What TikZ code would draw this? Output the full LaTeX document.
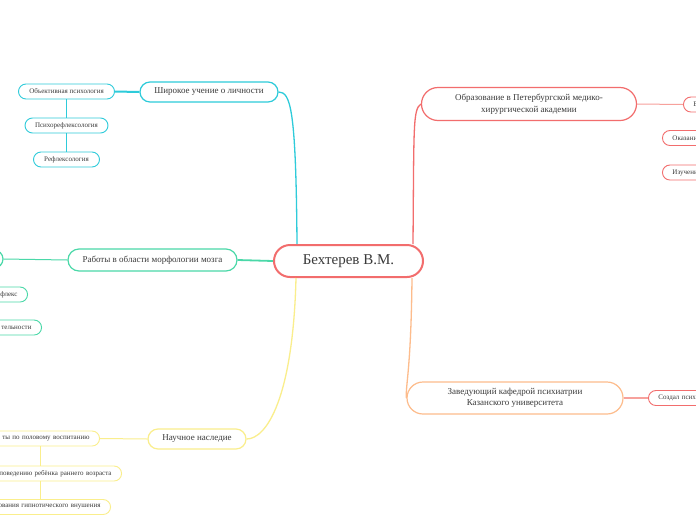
\documentclass[tikz,border=0pt]{standalone}
\usepackage{fontspec}
\setmainfont{Liberation Serif}
\usepackage{tikz}
\definecolor{ink}{HTML}{3A3A3A}
\definecolor{rootred}{HTML}{F26D6D}
\definecolor{cyanline}{HTML}{2ECBDA}
\definecolor{tealline}{HTML}{4AD8A8}
\definecolor{yellowline}{HTML}{FAEE8C}
\definecolor{peachline}{HTML}{FDBC8C}
\definecolor{salmonline}{HTML}{F7A19C}
\tikzset{
 mmbox/.style={draw=#1, fill=white, text=ink, inner sep=0pt},
 root/.style={mmbox=rootred, line width=2pt, rounded corners=16pt, minimum width=149pt, minimum height=32pt, font=\fontsize{15}{18}\selectfont},
 topic/.style={mmbox=#1, line width=1.2pt, font=\fontsize{9}{11.5}\selectfont, align=center},
 leaf/.style={mmbox=#1, line width=0.9pt, rounded corners=7.5pt, minimum height=15pt, font=\fontsize{7}{8}\selectfont},
 cutleft/.style={leaf=#1, anchor=east, text width=150pt, align=right, inner xsep=10pt},
 cutright/.style={leaf=#1, anchor=west, text width=150pt, align=left, inner xsep=10pt},
}

\begin{document}
\begin{tikzpicture}[x=1pt,y=-1pt]
 \useasboundingbox[fill=white] (0,0) rectangle (696,520);
 \clip (0,0) rectangle (696,520);
 % centre
 \node[root] (bekh) at (348.5,261) {Бехтерев В.М.};
 % upper left
 \node[topic=cyanline,minimum width=138pt,minimum height=20pt,rounded corners=10pt] (lichn) at (209,92) {Широкое учение о личности};
 \node[leaf=cyanline,minimum width=96pt] (objps) at (66.5,91.5) {Объективная психология};
 \node[leaf=cyanline,minimum width=83pt] (psref) at (66.5,125.5) {Психорефлексология};
 \node[leaf=cyanline,minimum width=66pt] (refl) at (66.5,159.5) {Рефлексология};
 % middle left
 \node[topic=tealline,minimum width=169pt,minimum height=22pt,rounded corners=11pt] (morph) at (152.5,260) {Работы в области морфологии мозга};
 \node[leaf=tealline,line width=1.2pt,minimum width=80pt,minimum height=18pt,rounded corners=9pt] (mhid) at (-37,259) {};
 \node[cutleft=tealline] (flex) at (28,294.5) {флекс};
 \node[cutleft=tealline] (tel) at (42,327.5) {тельности};
 % lower left
 \node[topic=yellowline,minimum width=98pt,minimum height=20pt,rounded corners=10pt] (nasl) at (197,439) {Научное наследие};
 \node[cutleft=yellowline] (polov) at (100,438.5) {ты по половому воспитанию};
 \node[cutleft=yellowline] (rebn) at (122,473.5) {поведению ребёнка раннего возраста};
 \node[cutleft=yellowline] (gipn) at (111,507) {ования гипнотического внушения};
 % upper right
 \node[topic=rootred,minimum width=215pt,minimum height=33pt,rounded corners=16.5pt] (obraz) at (529,104) {Образование в Петербургской медико-\\хирургической академии};
 \node[cutright=rootred] (vnode) at (683,104.5) {В};
 \node[cutright=rootred] (okaz) at (662,138) {Оказани};
 \node[cutright=rootred] (izuch) at (662,172.5) {Изучени};
 % lower right
 \node[topic=peachline,minimum width=216pt,minimum height=32pt,rounded corners=16pt] (zaved) at (515,398) {Заведующий кафедрой психиатрии\\Казанского университета};
 \node[cutright=rootred] (sozd) at (648,398) {Создал псих};

 % connectors
 \draw[cyanline,line width=1.3pt] ([xshift=24pt]bekh.north west) .. controls +(-1,-135) and +(12,0) .. (lichn.east);
 \draw[tealline,line width=1.8pt] (bekh.west) -- (morph.east);
 \draw[yellowline,line width=1.3pt] ([xshift=23pt]bekh.south west) .. controls +(-3,120) and +(20,0) .. (nasl.east);
 \draw[rootred,line width=1.3pt] ([xshift=-11pt]bekh.north east) .. controls +(1,-120) and +(-8,6) .. (obraz.west);
 \draw[peachline,line width=1.3pt] ([xshift=-12pt]bekh.south east) .. controls +(-1,93) and +(-1,-13) .. (zaved.west);
 \draw[cyanline,line width=2pt] (lichn.west) -- (objps.east);
 \draw[cyanline,line width=1pt] (objps.south) -- (psref.north);
 \draw[cyanline,line width=1pt] (psref.south) -- (refl.north);
 \draw[tealline,line width=1pt] (morph.west) -- (mhid.east);
 \draw[yellowline,line width=1pt] (nasl.west) -- (polov.east);
 \draw[yellowline,line width=1pt] ([xshift=-60pt]polov.south east) -- ([xshift=-60pt]polov.south east |- rebn.north);
 \draw[yellowline,line width=1pt] ([xshift=-82pt]rebn.south east) -- ([xshift=-82pt]rebn.south east |- gipn.north);
 \draw[salmonline,line width=1pt] (obraz.east) -- (vnode.west);
 \draw[salmonline,line width=2pt] (zaved.east) -- (sozd.west);
\end{tikzpicture}
\end{document}
